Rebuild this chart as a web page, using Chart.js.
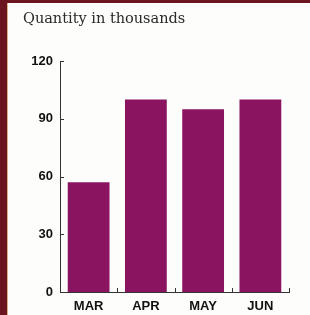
<!DOCTYPE html>
<html>
<head>
<meta charset="utf-8">
<script src="https://cdn.jsdelivr.net/npm/chart.js@4/dist/chart.umd.min.js"></script>
<style>
  html, body { margin: 0; padding: 0; }
  body { width: 310px; height: 315px; background: #fdfdfb; position: relative; overflow: hidden; }
  #frame { position: absolute; left: 0; top: 0; width: 310px; height: 315px; box-sizing: border-box;
           border-left: 7px solid #6b1520; border-top: 3px solid #6b1520; }
  #frame::after { content: ""; position: absolute; left: 0; top: 0; bottom: 0; width: 1px; background: #d8b58a; }
  #wrap { position: absolute; left: 0; top: 0; width: 310px; height: 315px; }
</style>
</head>
<body>
<div id="frame"></div>
<div id="wrap"><canvas id="chart" width="310" height="315"></canvas></div>
<script>
const months = ["MAR", "APR", "MAY", "JUN"];
const quantity = [57, 100, 95, 100];
const yTicks = [0, 30, 60, 90, 120];

const axisColor = "#333";
const tickFont = { family: "'Liberation Sans', Arial, sans-serif", size: 13, weight: "bold" };

// small tick marks pointing into the plot, like the original
const innerTicks = {
  id: "innerTicks",
  afterDraw(chart) {
    const { ctx, chartArea, scales } = chart;
    ctx.save();
    ctx.strokeStyle = axisColor;
    ctx.lineWidth = 1;
    ctx.beginPath();
    yTicks.forEach(v => {
      const y = Math.round(scales.y.getPixelForValue(v)) + 0.5;
      ctx.moveTo(chartArea.left, y);
      ctx.lineTo(chartArea.left + 4, y);
    });
    const step = scales.x.getPixelForValue(1) - scales.x.getPixelForValue(0);
    months.forEach((m, i) => {
      const x = Math.round(scales.x.getPixelForValue(i) + step / 2) + 0.5;
      ctx.moveTo(x, chartArea.bottom);
      ctx.lineTo(x, chartArea.bottom - 4);
    });
    ctx.stroke();
    ctx.restore();
  }
};

new Chart(document.getElementById("chart"), {
  type: "bar",
  data: {
    labels: months,
    datasets: [{
      data: quantity,
      backgroundColor: "#8b1461",
      borderWidth: 0,
      barPercentage: 0.73,
      categoryPercentage: 1
    }]
  },
  options: {
    responsive: false,
    animation: false,
    layout: { padding: { left: 23, right: 21, top: 0, bottom: 0 } },
    plugins: {
      legend: { display: false },
      tooltip: { enabled: false },
      title: {
        display: true,
        text: "Quantity in thousands",
        align: "start",
        color: "#2a2a2a",
        font: { family: "'DejaVu Serif', serif", size: 14.5, weight: "normal", lineHeight: 1.2 },
        padding: { top: 11, bottom: 32.6 }
      }
    },
    scales: {
      x: {
        grid: { display: false, drawTicks: false },
        border: { display: true, color: axisColor, width: 1 },
        ticks: { color: "#111", font: tickFont, padding: 7 },
        afterFit(scale) { scale.height = 23; }
      },
      y: {
        min: 0,
        max: 120,
        grid: { display: false, drawTicks: false },
        border: { display: true, color: axisColor, width: 1 },
        ticks: { stepSize: 30, color: "#111", font: tickFont, padding: 7 },
        afterFit(scale) { scale.width = 37; }
      }
    }
  },
  plugins: [innerTicks]
});
</script>
</body>
</html>
